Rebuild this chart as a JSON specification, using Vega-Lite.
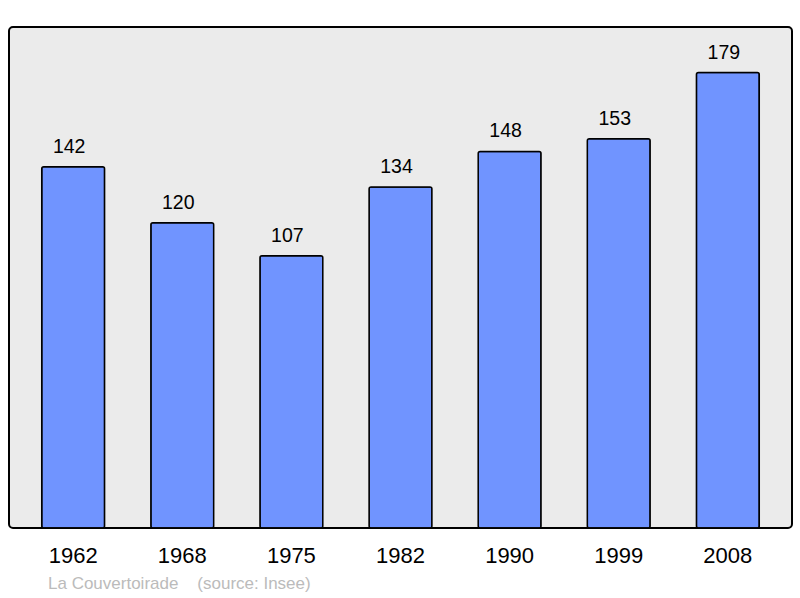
{
  "$schema": "https://vega.github.io/schema/vega-lite/v6.json",
  "width": 783,
  "height": 501,
  "padding": {"left": 9, "top": 27, "right": 8, "bottom": 0},
  "data": {
    "values": [
      {"year": "1962", "pop": 142},
      {"year": "1968", "pop": 120},
      {"year": "1975", "pop": 107},
      {"year": "1982", "pop": 134},
      {"year": "1990", "pop": 148},
      {"year": "1999", "pop": 153},
      {"year": "2008", "pop": 179}
    ]
  },
  "title": {
    "text": "La Couvertoirade\u00a0\u00a0\u00a0\u00a0(source: Insee)",
    "orient": "bottom",
    "anchor": "start",
    "dx": 39,
    "offset": 10,
    "fontSize": 17,
    "fontWeight": "normal",
    "color": "#bbbbbb",
    "font": "Liberation Sans"
  },
  "encoding": {
    "x": {
      "field": "year",
      "type": "nominal",
      "sort": null,
      "title": null,
      "scale": {"paddingInner": 0.424, "paddingOuter": 0.3},
      "axis": {
        "labelAngle": 0,
        "domain": false,
        "ticks": false,
        "labelPadding": 17,
        "labelFontSize": 22,
        "labelFont": "Liberation Sans",
        "labelColor": "#000000"
      }
    },
    "y": {
      "field": "pop",
      "type": "quantitative",
      "scale": {"domain": [0, 196.9], "nice": false},
      "axis": null
    }
  },
  "layer": [
    {
      "mark": {"type": "bar", "fill": "#7094ff", "stroke": "#000000", "strokeWidth": 1.5, "cornerRadius": 2}
    },
    {
      "mark": {"type": "text", "baseline": "alphabetic", "dy": -14, "dx": -4, "fontSize": 19.5, "font": "Liberation Sans", "color": "#000000"},
      "encoding": {"text": {"field": "pop", "type": "quantitative"}}
    }
  ],
  "config": {
    "view": {"fill": "#ebebeb", "stroke": "#000000", "strokeWidth": 2, "cornerRadius": 4},
    "background": "#ffffff"
  }
}
